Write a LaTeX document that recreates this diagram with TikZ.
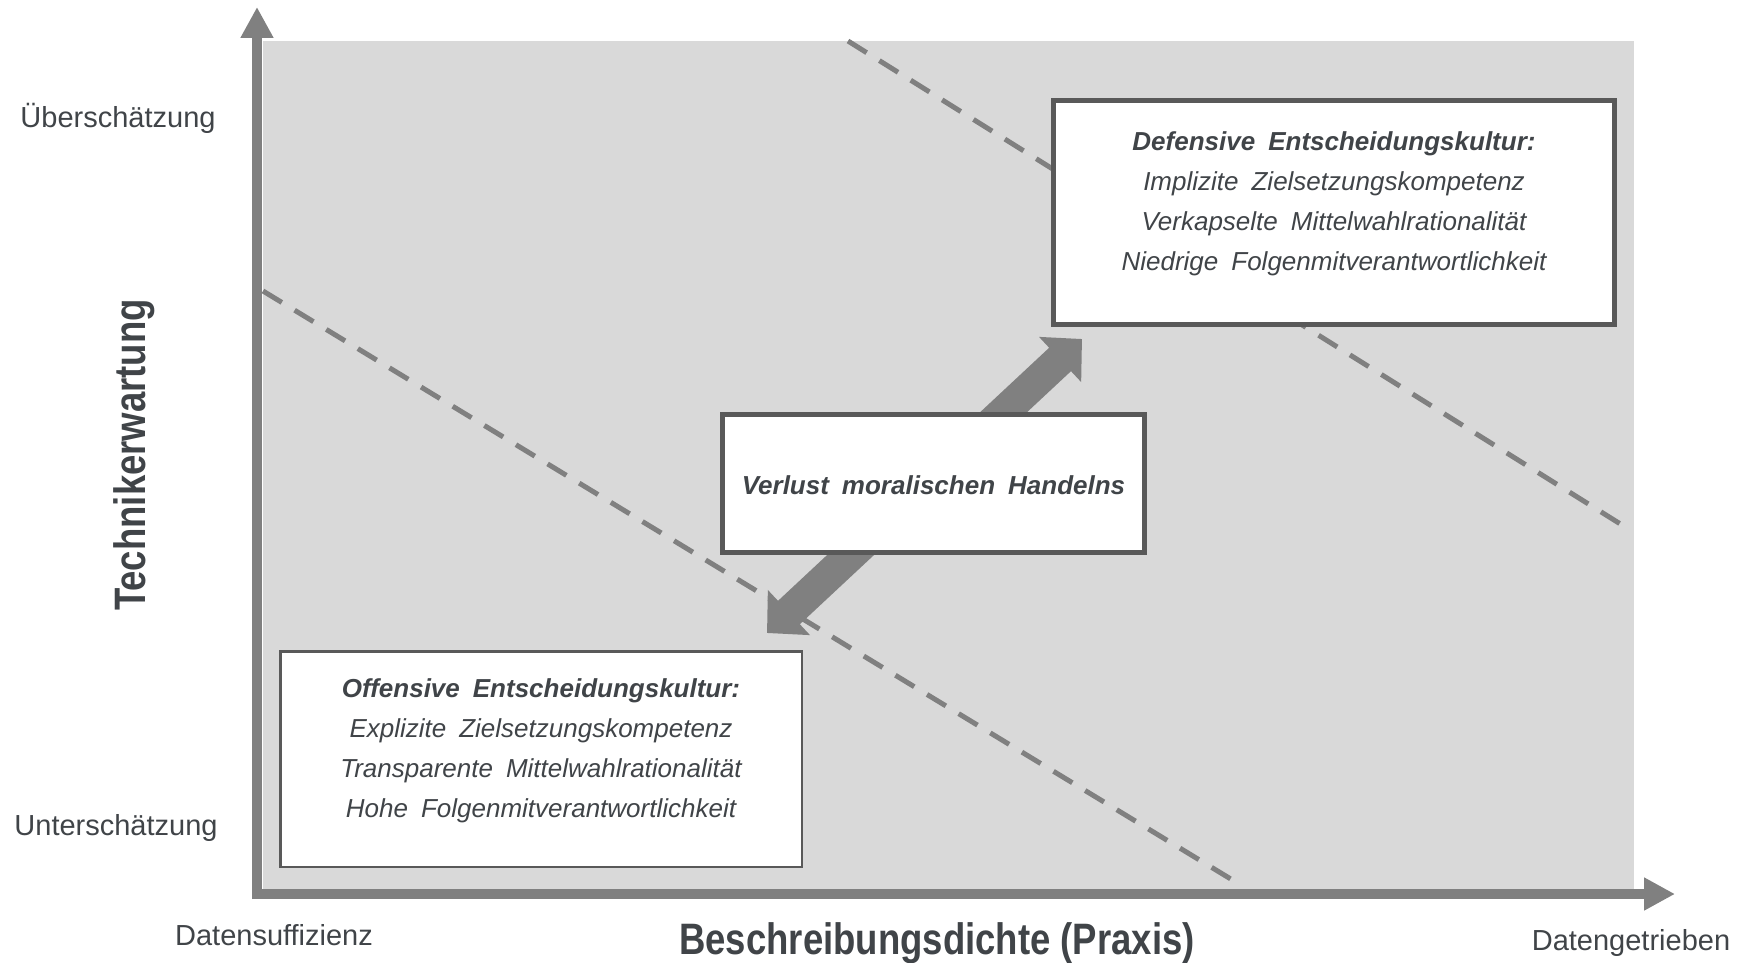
\documentclass[tikz,border=0pt]{standalone}
\usepackage{fontspec}
\setmainfont{Liberation Sans}
\newfontfamily\titlefont{Liberation Sans}[FakeStretch=0.83]
\newfontfamily\boxfont{Liberation Sans}[WordSpace=1.8]
\usetikzlibrary{arrows.meta,calc}
\definecolor{plotbg}{RGB}{217,217,217}
\definecolor{axisgray}{RGB}{128,128,128}
\definecolor{framegray}{RGB}{89,89,89}
\definecolor{inkgray}{RGB}{64,68,72}
\begin{document}
\begin{tikzpicture}[x=1pt,y=-1pt,
  axisline/.style={draw=axisgray, line width=10pt, -{Triangle[length=31pt,width=31pt]}},
  guide/.style={draw=axisgray, line width=5pt, dash pattern=on 22pt off 15pt},
  framebox/.style={draw=framegray, fill=white, line width=5pt, inner sep=0pt},
  thinbox/.style={draw=framegray, fill=white, line width=2.5pt, inner sep=0pt},
  boxtext/.style={text=inkgray, align=center, inner sep=0pt,
    font=\boxfont\fontsize{26}{40}\selectfont\itshape},
  ticklabel/.style={text=inkgray, inner sep=0pt, font=\fontsize{29}{34}\selectfont},
  axistitle/.style={text=inkgray, inner sep=0pt,
    font=\titlefont\bfseries\fontsize{44}{50}\selectfont},
  bothways/.style={draw=axisgray, line width=32pt,
    {Triangle[length=30pt,width=60pt]}-{Triangle[length=30pt,width=60pt]}},
]
\useasboundingbox (0,0) rectangle (1739,963);

% plot area
\fill[plotbg] (263,41) rectangle (1634,889);

% diagonal guide lines
\coordinate (g1a) at (263,291);
\coordinate (g1b) at (1239,884);
\coordinate (g2a) at (848,41);
\coordinate (g2b) at (1630,530);
\draw[guide] (g1a) -- (g1b);
\draw[guide] (g2a) -- (g2b);

% axes
\coordinate (yfoot) at (257,899);
\coordinate (ytip) at (257,7);
\coordinate (xfoot) at (252,894);
\coordinate (xtip) at (1675,894);
\draw[axisline] (yfoot) -- (ytip);
\draw[axisline] (xfoot) -- (xtip);

% double arrow between the two cultures
\coordinate (lowtip) at (767,633);
\coordinate (hightip) at (1082,339);
\draw[bothways] (lowtip) -- (hightip);

% boxes
\node[framebox, minimum width=561pt, minimum height=224pt] (def) at (1334,212.5) {};
\node[boxtext] (deftext) at ($(def.center)+(0,-9)$)
  {\bfseries Defensive Entscheidungskultur:\\
   Implizite Zielsetzungskompetenz\\
   Verkapselte Mittelwahlrationalität\\
   Niedrige Folgenmitverantwortlichkeit};

\node[framebox, minimum width=422pt, minimum height=138pt] (loss) at (933.5,483.5) {};
\node[boxtext] (losstext) at ($(loss.center)+(0,2)$)
  {\bfseries Verlust moralischen Handelns};

\node[thinbox, minimum width=521.5pt, minimum height=215.5pt] (off) at (541,759) {};
\node[boxtext] (offtext) at ($(off.center)+(0,-8)$)
  {\bfseries Offensive Entscheidungskultur:\\
   Explizite Zielsetzungskompetenz\\
   Transparente Mittelwahlrationalität\\
   Hohe Folgenmitverantwortlichkeit};

% axis labels
\node[ticklabel] (high) at (118,118) {Überschätzung};
\node[ticklabel] (low) at (116,828) {Unterschätzung};
\node[ticklabel] (suff) at (274,935) {Datensuffizienz};
\node[ticklabel] (driven) at (1631,943) {Datengetrieben};
\node[axistitle] (xtitle) at (937,943) {Beschreibungsdichte (Praxis)};
\node[axistitle, rotate=90] (ytitle) at (134,455) {Technikerwartung};
\end{tikzpicture}
\end{document}
